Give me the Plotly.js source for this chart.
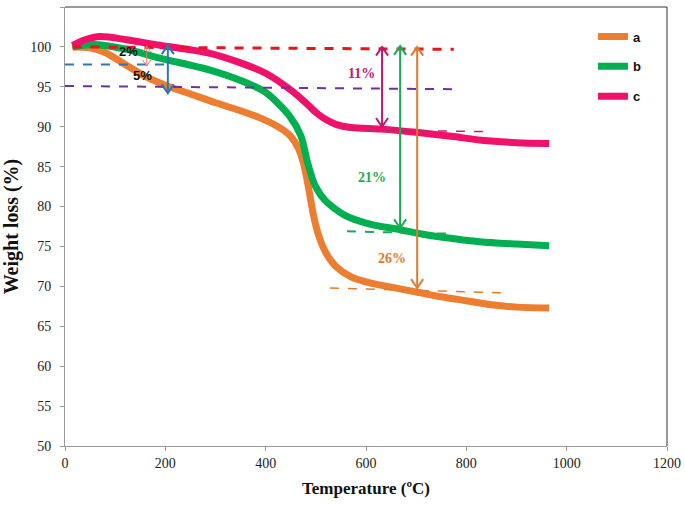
<!DOCTYPE html>
<html>
<head>
<meta charset="utf-8">
<script src="https://cdn.plot.ly/plotly-3.0.1.min.js"></script>
<style>html,body{margin:0;padding:0;background:#fff}#chart{width:685px;height:505px}</style>
</head>
<body>
<div id="chart"></div>
<script>
// ---- data ----
const tempA = [15, 50, 80, 120, 160, 200, 250, 300, 350, 400, 430, 450, 465, 475, 485, 495, 505, 520, 540, 570, 610, 650, 700, 750, 800, 850, 900, 965];
const weightA = [100, 99.9, 99.3, 97.8, 96.3, 95.2, 94.1, 93.0, 92.0, 90.8, 89.8, 88.8, 87.3, 85.5, 82.5, 79.0, 76.5, 74.2, 72.5, 71.2, 70.4, 69.9, 69.3, 68.7, 68.2, 67.7, 67.4, 67.3];

const tempB = [15, 56, 123, 189, 289, 350, 400, 448, 470, 484, 498, 518, 558, 608, 668, 708, 760, 827, 900, 965];
const weightB = [100, 100.3, 99.7, 98.6, 97.1, 95.8, 94.3, 91.3, 88.9, 85.4, 82.7, 80.8, 78.9, 77.8, 77.1, 76.6, 76.1, 75.6, 75.3, 75.1];

const tempC = [15, 40, 70, 123, 189, 289, 350, 400, 450, 480, 500, 520, 540, 570, 630, 700, 770, 830, 900, 965];
const weightC = [100.2, 100.9, 101.3, 100.9, 100.2, 99.2, 98.0, 96.7, 94.6, 93.0, 91.8, 90.9, 90.3, 89.9, 89.7, 89.3, 88.8, 88.3, 88.0, 87.9];

const seriesNames = ["a", "b", "c"];

// reference (dashed) lines: [x0, x1], [y0, y1]
const refRedX = [15, 775], refRedY = [100, 99.7];
const refBlueX = [0, 203], refBlueY = [97.8, 97.8];
const refPurpleX = [0, 775], refPurpleY = [95.1, 94.7];
const refPinkX = [564, 838], refPinkY = [89.6, 89.4];
const refGreenX = [562, 765], refGreenY = [76.9, 76.6];
const refOrangeX = [528, 877], refOrangeY = [69.8, 69.2];

// double arrows: x position, top value, bottom value
const arrowX = [163, 205, 632, 668, 702];
const arrowTop = [100.1, 100.2, 100.0, 100.1, 100.0];
const arrowBottom = [97.6, 94.2, 90.0, 77.3, 69.8];

// percentage labels
const labelText = ["2%", "5%", "11%", "21%", "26%"];
const labelX = [126, 154, 592, 612, 652];
const labelY = [99.4, 96.4, 96.7, 83.6, 73.5];

// ---- styles ----
const cOrange = "#ED7D31", cGreen = "#00B050", cPink = "#F0116B";
const arrowColors = ["#E8766A", "#2E75B6", "#C0186E", "#1BAA55", "#E07B2E"];
const arrowWidths = [1, 2, 2, 2, 2];
const labelColors = ["#111", "#111", "#C0186E", "#1BAA55", "#E07B2E"];

const traces = [];

const curves = [[tempA, weightA, cOrange], [tempB, weightB, cGreen], [tempC, weightC, cPink]];
curves.forEach((c, i) => {
  traces.push({x: c[0], y: c[1], name: seriesNames[i], legendgroup: seriesNames[i], mode: "lines",
    line: {color: c[2], width: 7, shape: "spline", smoothing: 0.8}, hoverinfo: "x+y"});
});

function dashLine(x, y, color, w) {
  traces.push({x: x, y: y, mode: "lines", line: {color: color, width: w, dash: "dash"}, showlegend: false, hoverinfo: "skip"});
}
dashLine(refRedX, refRedY, "#E8141B", 3);
dashLine(refBlueX, refBlueY, "#2E75B6", 2);
dashLine(refPurpleX, refPurpleY, "#7030A0", 2);
dashLine(refPinkX, refPinkY, "#B0306A", 1.5);
dashLine(refGreenX, refGreenY, "#1BAA55", 2);
dashLine(refOrangeX, refOrangeY, "#E07B2E", 1.5);

// chevron arrows built from arrow arrays
const dxHead = 12, dyHead = 1.1;
arrowX.forEach((x, i) => {
  const t = arrowTop[i], b = arrowBottom[i];
  const sc = i === 0 ? 0.7 : 1;
  const dx = dxHead * sc, dy = dyHead * sc;
  traces.push({
    x: [x - dx, x, x + dx, null, x, x, null, x - dx, x, x + dx],
    y: [t - dy, t, t - dy, null, t, b, null, b + dy, b, b + dy],
    mode: "lines", line: {color: arrowColors[i], width: arrowWidths[i]}, showlegend: false, hoverinfo: "skip"
  });
});

const annotations = labelText.map((t, i) => ({
  x: labelX[i], y: labelY[i], text: "<b>" + t + "</b>", showarrow: false,
  font: {family: i < 2 ? "Liberation Sans, Arial" : "Liberation Serif, Times New Roman", size: i < 2 ? 13 : 14, color: labelColors[i]}
}));

const tickFont = {family: "Liberation Serif, Times New Roman, serif", size: 14, color: "#222"};
const layout = {
  width: 685, height: 505,
  margin: {l: 65, r: 18, t: 7, b: 59},
  paper_bgcolor: "#fff", plot_bgcolor: "#fff",
  showlegend: true,
  legend: {x: 0.877, y: 0.967, xanchor: "left", yanchor: "top", tracegroupgap: 10, traceorder: "grouped",
    font: {family: "Liberation Sans, Arial", size: 13, color: "#111", weight: "bold"}, bgcolor: "rgba(0,0,0,0)"},
  xaxis: {range: [0, 1200], dtick: 200, tick0: 0, showgrid: false, zeroline: false,
    showline: true, linecolor: "#999", linewidth: 1, ticks: "outside", ticklen: 4, tickcolor: "#999",
    tickfont: tickFont,
    title: {text: "<b>Temperature (ºC)</b>", font: {family: "Liberation Serif, Times New Roman, serif", size: 17, color: "#111"}, standoff: 12}},
  yaxis: {range: [50, 105], dtick: 5, tick0: 50, showgrid: false, zeroline: false,
    showline: true, linecolor: "#999", linewidth: 1, ticks: "outside", ticklen: 4, tickcolor: "#999",
    tickfont: tickFont, ticklabelstandoff: 6,
    title: {text: "<b>Weight loss (%)</b>", font: {family: "Liberation Serif, Times New Roman, serif", size: 20, color: "#111"}, standoff: 6}},
  shapes: [
    {type: "line", xref: "paper", yref: "paper", x0: 0, x1: 1, y0: 1, y1: 1, line: {color: "#333", width: 1}},
    {type: "line", xref: "paper", yref: "paper", x0: 1, x1: 1, y0: 0, y1: 1, line: {color: "#333", width: 1}}
  ],
  annotations: annotations
};

Plotly.newPlot("chart", traces, layout, {displayModeBar: false, staticPlot: true});
</script>
</body>
</html>
